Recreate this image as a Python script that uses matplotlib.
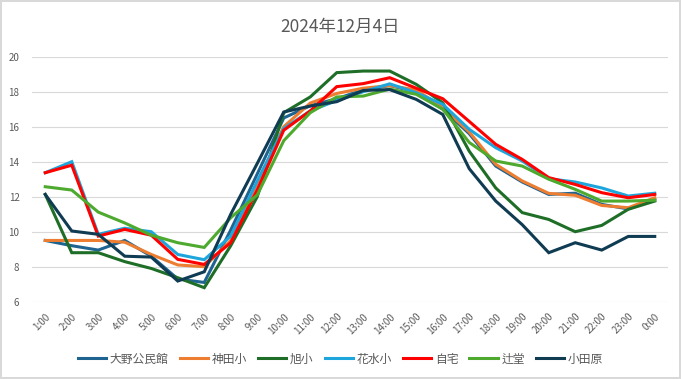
import numpy as np
import matplotlib
matplotlib.use("Agg")
import matplotlib.pyplot as plt

plt.rcParams['font.family'] = ['Noto Sans CJK JP', 'DejaVu Sans']

hours = ['1:00', '2:00', '3:00', '4:00', '5:00', '6:00', '7:00', '8:00', '9:00', '10:00',
         '11:00', '12:00', '13:00', '14:00', '15:00', '16:00', '17:00', '18:00', '19:00',
         '20:00', '21:00', '22:00', '23:00', '0:00']

oono = [9.5, 9.2, 8.95, 9.5, 8.6, 7.3, 7.1, 10.1, 13.3, 16.5, 17.2, 17.6,
        18.1, 18.35, 18.0, 17.0, 15.6, 13.75, 12.84, 12.13, 12.2, 11.56, 11.3, 11.85]
kanda = [9.5, 9.5, 9.5, 9.4, 8.7, 8.1, 8.0, 9.5, 12.8, 16.0, 17.35, 17.9,
         18.2, 18.35, 18.1, 17.1, 15.7, 13.85, 12.9, 12.19, 12.08, 11.5, 11.37, 11.94]
asahi = [12.13, 8.8, 8.8, 8.29, 7.9, 7.37, 6.8, 9.2, 12.0, 16.8, 17.7, 19.09,
         19.18, 19.18, 18.42, 17.37, 14.6, 12.5, 11.09, 10.7, 10.0, 10.36, 11.28, 11.75]
hanamizu = [13.37, 14.0, 9.85, 10.2, 10.0, 8.7, 8.4, 9.75, 12.9, 15.9, 16.9, 17.5,
            18.0, 18.45, 17.94, 17.28, 15.85, 14.8, 14.04, 13.03, 12.84, 12.5, 12.04, 12.2]
jitaku = [13.37, 13.8, 9.75, 10.13, 9.8, 8.42, 8.13, 9.37, 12.4, 15.8, 16.9, 18.29,
          18.46, 18.8, 18.2, 17.6, 16.3, 14.99, 14.13, 13.09, 12.7, 12.23, 11.94, 12.13]
tsujido = [12.57, 12.38, 11.12, 10.5, 9.8, 9.37, 9.1, 10.8, 12.1, 15.2, 16.8, 17.7,
           17.75, 18.15, 17.85, 17.0, 15.1, 14.04, 13.75, 13.0, 12.42, 11.75, 11.75, 11.8]
odawara = [12.13, 10.04, 9.85, 8.6, 8.55, 7.18, 7.71, 11.0, 13.9, 16.84, 17.18, 17.43,
           18.07, 18.12, 17.56, 16.7, 13.6, 11.75, 10.4, 8.8, 9.37, 8.95, 9.73, 9.73]

names = ['大野公民館', '神田小', '旭小', '花水小', '自宅', '辻堂', '小田原']
series = [oono, kanda, asahi, hanamizu, jitaku, tsujido, odawara]
colors = ['#1f6391', '#ed7d31', '#1e6e28', '#1ea6dc', '#ff0000', '#4eaa2e', '#0f3b53']

fig = plt.figure(figsize=(6.81, 3.79), dpi=100, edgecolor='#d9d9d9', linewidth=1.5)
ax = fig.add_axes([32 / 681, 1 - 301.7 / 379, 636 / 681, 245 / 379])

x = np.arange(len(hours))
for name, vals, c in zip(names, series, colors):
    ax.plot(x, vals, color=c, lw=2.2, label=name, solid_joinstyle='miter')

ax.set_xlim(-0.5, len(hours) - 0.5)
ax.set_ylim(6, 20)
ax.set_yticks(range(6, 21, 2))
ax.set_xticks(x)
ax.set_xticklabels(hours, rotation=45, ha='right', va='top', rotation_mode='anchor')
ax.tick_params(axis='both', length=0, labelsize=7, labelcolor='#595959')
ax.tick_params(axis='y', pad=9)
ax.tick_params(axis='x', pad=7)
ax.grid(axis='y', color='#d9d9d9', lw=0.8)
ax.set_axisbelow(True)
for s in ax.spines.values():
    s.set_visible(False)

fig.text(0.5, 1 - 27 / 379, '2024年12月4日', ha='center', va='center',
         fontsize=12.5, color='#595959')

fig.legend(loc='center', bbox_to_anchor=(0.5, 1 - 359 / 379), ncol=7, frameon=False,
           fontsize=8.5, handlelength=2.4, handletextpad=0.3, columnspacing=0.95,
           labelcolor='#595959')

fig.savefig('out.png', dpi=100)
